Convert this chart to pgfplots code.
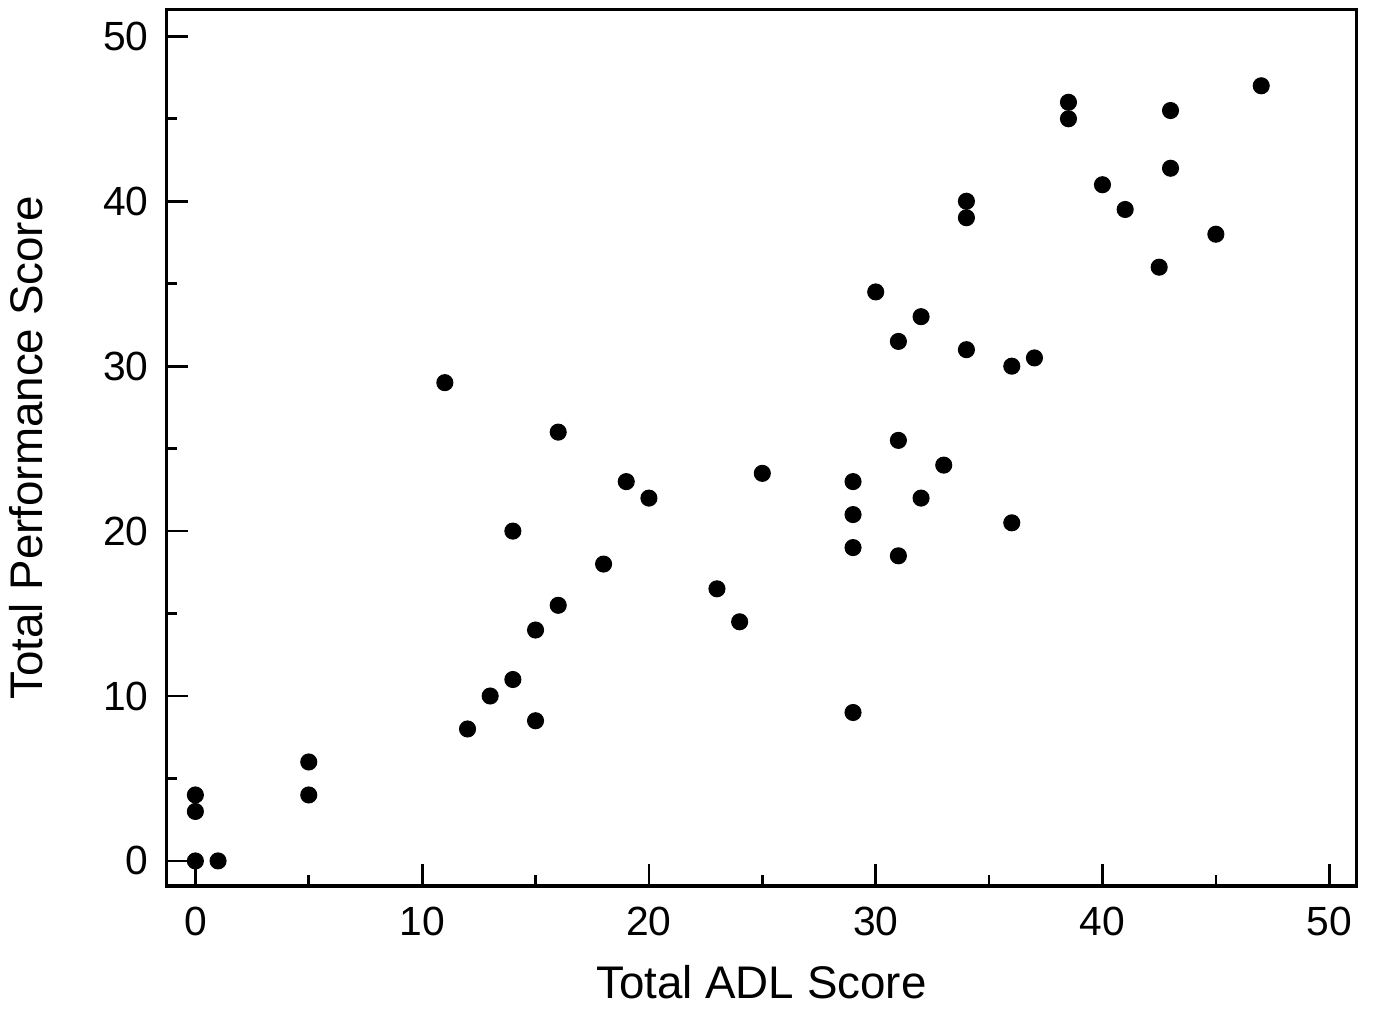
\documentclass[border=0pt]{standalone}
\usepackage{fontspec}
\setmainfont{Liberation Sans}
\usepackage{pgfplots}
\pgfplotsset{compat=1.18}

\pgfplotstableread{
adl perf
0 0
1 0
0 3
0 4
5 4
5 6
11 29
12 8
13 10
14 11
14 20
15 8.5
15 14
16 15.5
16 26
18 18
19 23
20 22
23 16.5
24 14.5
25 23.5
29 9
29 19
29 21
29 23
30 34.5
31 18.5
31 25.5
31 31.5
32 22
32 33
33 24
34 31
34 39
34 40
36 20.5
36 30
37 30.5
38.5 45
38.5 46
40 41
41 39.5
42.5 36
43 42
43 45.5
45 38
47 47
}\scores

\begin{document}
\begin{tikzpicture}
  \begin{axis}[
      scale only axis,
      width=432pt, height=318pt,
      xmin=-1.28, xmax=51.2,
      ymin=-1.52, ymax=51.6,
      xtick={0,10,...,50}, ytick={0,10,...,50},
      minor xtick={5,15,...,45}, minor ytick={5,15,...,45},
      tick pos=left, tick align=inside,
      major tick length=8pt, minor tick length=4pt,
      every tick/.style={black, line width=1pt},
      axis line style={line width=1.1pt},
      tick label style={font=\fontsize{14.8}{18}\selectfont},
      label style={font=\fontsize{16.6}{20}\selectfont},
      /pgf/number format/assume math mode=true,
      xticklabel style={yshift=-4pt},
      yticklabel style={xshift=-3pt},
      xlabel={Total ADL Score},
      ylabel={Total Performance Score},
      xlabel style={yshift=-4pt},
      ylabel style={yshift=15pt},
    ]
    \addplot[only marks, mark=*, mark size=2.9pt, black] table[x=adl, y=perf] {\scores};
  \end{axis}
  \path (current axis.north east) ++(6pt,3.6pt);
\end{tikzpicture}
\end{document}
